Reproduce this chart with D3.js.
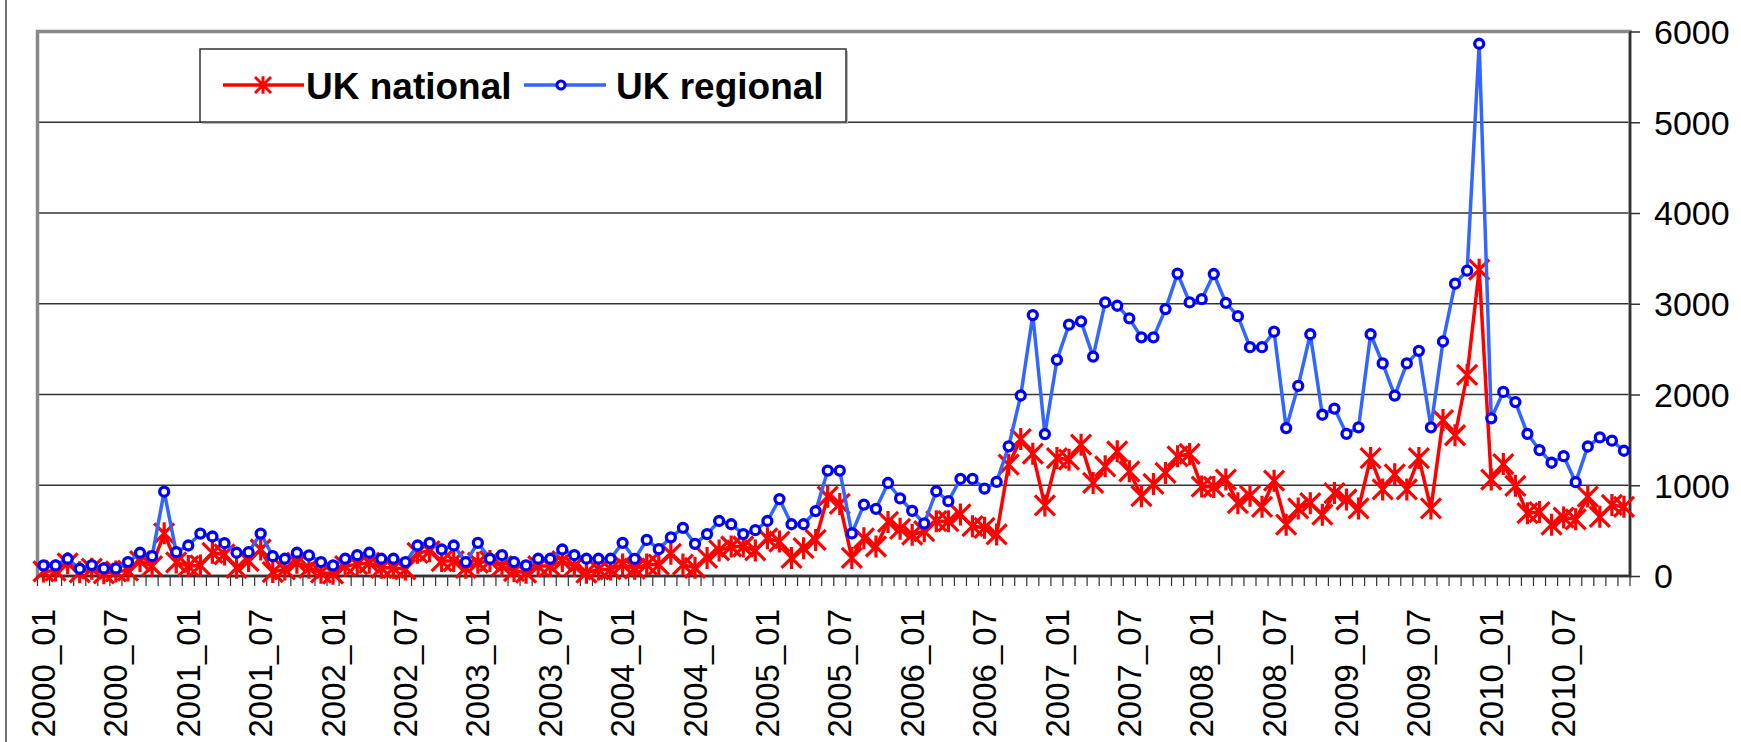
<!DOCTYPE html>
<html lang="en">
<head>
<meta charset="UTF-8">
<title>UK national vs UK regional</title>
<script src="https://d3js.org/d3.v7.min.js"></script>
<style>
    html, body {
        margin: 0;
        padding: 0;
        background: #fff;
    }
    text {
        font-family: "Liberation Sans", Arial, sans-serif;
        fill: #000;
    }
    .grid line {
        stroke: #333;
        stroke-width: 1.5px;
    }
    path.line {
        fill: none;
        stroke-width: 3.5px;
        stroke-linejoin: round;
    }
</style>
</head>
<body>
<script>

// month categories 2000_01 .. 2010_12
var years = [2000, 2001, 2002, 2003, 2004, 2005, 2006, 2007, 2008, 2009, 2010];
var months = ["01", "02", "03", "04", "05", "06", "07", "08", "09", "10", "11", "12"];
var categories = [];
years.forEach(function(y) { months.forEach(function(m) { categories.push(y + "_" + m); }); });

var tickLabels = ["2000_01", "2000_07", "2001_01", "2001_07", "2002_01", "2002_07",
    "2003_01", "2003_07", "2004_01", "2004_07", "2005_01", "2005_07", "2006_01",
    "2006_07", "2007_01", "2007_07", "2008_01", "2008_07", "2009_01", "2009_07",
    "2010_01", "2010_07"];

var yTicks = [0, 1000, 2000, 3000, 4000, 5000, 6000];

var ukNational = [
    50, 60, 140, 40, 80, 30, 50, 60, 165, 110, 470, 150,
    110, 117, 256, 238, 90, 165, 292, 44, 73, 146, 90, 36,
    25, 110, 128, 146, 90, 90, 73, 256, 274, 165, 165, 90,
    146, 165, 110, 55, 36, 110, 110, 165, 110, 36, 73, 73,
    126, 80, 126, 126, 245, 126, 90, 199, 282, 325, 325, 282,
    415, 379, 199, 307, 397, 874, 794, 199, 415, 325, 596, 520,
    455, 494, 604, 604, 678, 549, 531, 458, 1227, 1509, 1348, 777,
    1300, 1282, 1447, 1026, 1209, 1374, 1154, 879, 1015, 1136, 1319, 1345,
    985, 982, 1062, 803, 883, 763, 1050, 565, 744, 803, 676, 914,
    843, 744, 1300, 954, 1121, 954, 1300, 744, 1718, 1551, 2215, 3376,
    1062, 1233, 994, 692, 704, 565, 644, 624, 875, 652, 783, 763
];

var ukRegional = [
    117, 117, 190, 80, 120, 84, 84, 153, 256, 219, 929, 263,
    336, 468, 435, 362, 256, 263, 468, 219, 190, 256, 227, 153,
    117, 190, 230, 256, 190, 190, 153, 336, 366, 292, 336, 153,
    366, 190, 230, 153, 117, 190, 190, 292, 230, 190, 190, 190,
    366, 188, 397, 296, 426, 531, 354, 462, 606, 570, 462, 505,
    606, 848, 570, 570, 715, 1162, 1162, 469, 787, 740, 1025, 855,
    718, 579, 934, 824, 1070, 1070, 963, 1037, 1429, 1989, 2875, 1564,
    2381, 2769, 2806, 2418, 3015, 2978, 2839, 2630, 2630, 2941, 3333, 3015,
    3050, 3328, 3010, 2863, 2521, 2521, 2692, 1630, 2095, 2664, 1777, 1845,
    1567, 1638, 2664, 2342, 1988, 2342, 2481, 1638, 2584, 3221, 3364, 5865,
    1738, 2028, 1916, 1567, 1388, 1248, 1320, 1034, 1427, 1527, 1491, 1380
];

var W = 1741, H = 742;
var plot = {left: 37.5, right: 1630, top: 31.5, bottom: 576};

var svg = d3.select("body").append("svg").attr("width", W).attr("height", H);

var x = d3.scaleBand().domain(categories).range([plot.left, plot.right]).padding(0);
var y = d3.scaleLinear().domain([0, 6000]).range([plot.bottom, plot.top]);
var cx = function(c) { return x(c) + x.bandwidth() / 2; };

// outer chart edge
svg.append("line").attr("x1", 6).attr("x2", 6).attr("y1", 0).attr("y2", H)
    .attr("stroke", "#444").attr("stroke-width", 1.5);

// gridlines
svg.append("g").attr("class", "grid")
    .selectAll("line").data(yTicks.slice(1, -1)).enter().append("line")
    .attr("x1", plot.left).attr("x2", plot.right)
    .attr("y1", function(d) { return y(d); }).attr("y2", function(d) { return y(d); });

// plot border
svg.append("rect")
    .attr("x", plot.left).attr("y", plot.top)
    .attr("width", plot.right - plot.left).attr("height", plot.bottom - plot.top)
    .attr("fill", "none").attr("stroke", "#888").attr("stroke-width", 3.5);

// y axis on the right
var yAxis = d3.axisRight(y).tickValues(yTicks).tickFormat(d3.format("d")).tickSize(10).tickPadding(14);
var gy = svg.append("g").attr("transform", "translate(" + plot.right + ",0)").call(yAxis);
gy.select(".domain").remove();
gy.selectAll(".tick line").attr("stroke", "#333").attr("stroke-width", 1.5);
gy.selectAll(".tick text").style("font-size", "34px").attr("dy", "0.35em");

// x axis: labels every 6 months, ticks between every category
var xAxis = d3.axisBottom(x).tickValues(tickLabels).tickSize(0);
var gx = svg.append("g").attr("transform", "translate(0," + plot.bottom + ")").call(xAxis);
gx.select(".domain").remove();
gx.selectAll(".tick text")
    .style("font-size", "33px")
    .attr("text-anchor", "end")
    .attr("transform", "rotate(-90)")
    .attr("x", -33).attr("y", 0).attr("dy", "0.35em");

var bounds = categories.map(function(c) { return x(c); }).concat([plot.right]);
svg.append("g").selectAll("line").data(bounds).enter().append("line")
    .attr("x1", function(d) { return d; }).attr("x2", function(d) { return d; })
    .attr("y1", plot.bottom).attr("y2", plot.bottom + 10)
    .attr("stroke", "#333").attr("stroke-width", 1.2);

svg.append("line").attr("x1", plot.left).attr("x2", plot.right)
    .attr("y1", plot.bottom).attr("y2", plot.bottom)
    .attr("stroke", "#333").attr("stroke-width", 2);
svg.append("line").attr("x1", plot.right).attr("x2", plot.right)
    .attr("y1", plot.top).attr("y2", plot.bottom)
    .attr("stroke", "#333").attr("stroke-width", 2);

// series
var starPath = function(s) {
    return "M" + (-s) + "," + (-s) + "L" + s + "," + s +
        "M" + (-s) + "," + s + "L" + s + "," + (-s) +
        "M0," + (-s * 1.1) + "V" + (s * 1.1);
};

var line = d3.line()
    .x(function(d, i) { return cx(categories[i]); })
    .y(function(d) { return y(d); });

var gNat = svg.append("g");
gNat.append("path").attr("class", "line").attr("d", line(ukNational)).attr("stroke", "#ff0000");
gNat.selectAll("path.mk").data(ukNational).enter().append("path")
    .attr("class", "mk")
    .attr("d", starPath(10))
    .attr("transform", function(d, i) { return "translate(" + cx(categories[i]) + "," + y(d) + ")"; })
    .attr("fill", "none").attr("stroke", "#ff0000").attr("stroke-width", 3.2);

var gReg = svg.append("g");
gReg.append("path").attr("class", "line").attr("d", line(ukRegional)).attr("stroke", "#3366ff");
gReg.selectAll("circle").data(ukRegional).enter().append("circle")
    .attr("cx", function(d, i) { return cx(categories[i]); })
    .attr("cy", function(d) { return y(d); })
    .attr("r", 4.5)
    .attr("fill", "#fff").attr("stroke", "#0000ff").attr("stroke-width", 3.3);

// legend
var lg = svg.append("g");
lg.append("rect").attr("x", 202).attr("y", 51).attr("width", 646).attr("height", 73).attr("fill", "#bbb");
lg.append("rect").attr("x", 200).attr("y", 49).attr("width", 646).attr("height", 73)
    .attr("fill", "#fff").attr("stroke", "#333").attr("stroke-width", 1.5);

lg.append("line").attr("x1", 223).attr("x2", 304).attr("y1", 85).attr("y2", 85)
    .attr("stroke", "#ff0000").attr("stroke-width", 3.5);
lg.append("path").attr("d", starPath(8)).attr("transform", "translate(263,85)")
    .attr("fill", "none").attr("stroke", "#ff0000").attr("stroke-width", 3);
lg.append("text").attr("x", 306).attr("y", 99).style("font-size", "37px").style("font-weight", "bold")
    .text("UK national");

lg.append("line").attr("x1", 524).attr("x2", 606).attr("y1", 85).attr("y2", 85)
    .attr("stroke", "#3366ff").attr("stroke-width", 3.5);
lg.append("circle").attr("cx", 561).attr("cy", 85).attr("r", 4)
    .attr("fill", "#fff").attr("stroke", "#0000ff").attr("stroke-width", 3);
lg.append("text").attr("x", 616).attr("y", 99).style("font-size", "37px").style("font-weight", "bold")
    .text("UK regional");

</script>
</body>
</html>
